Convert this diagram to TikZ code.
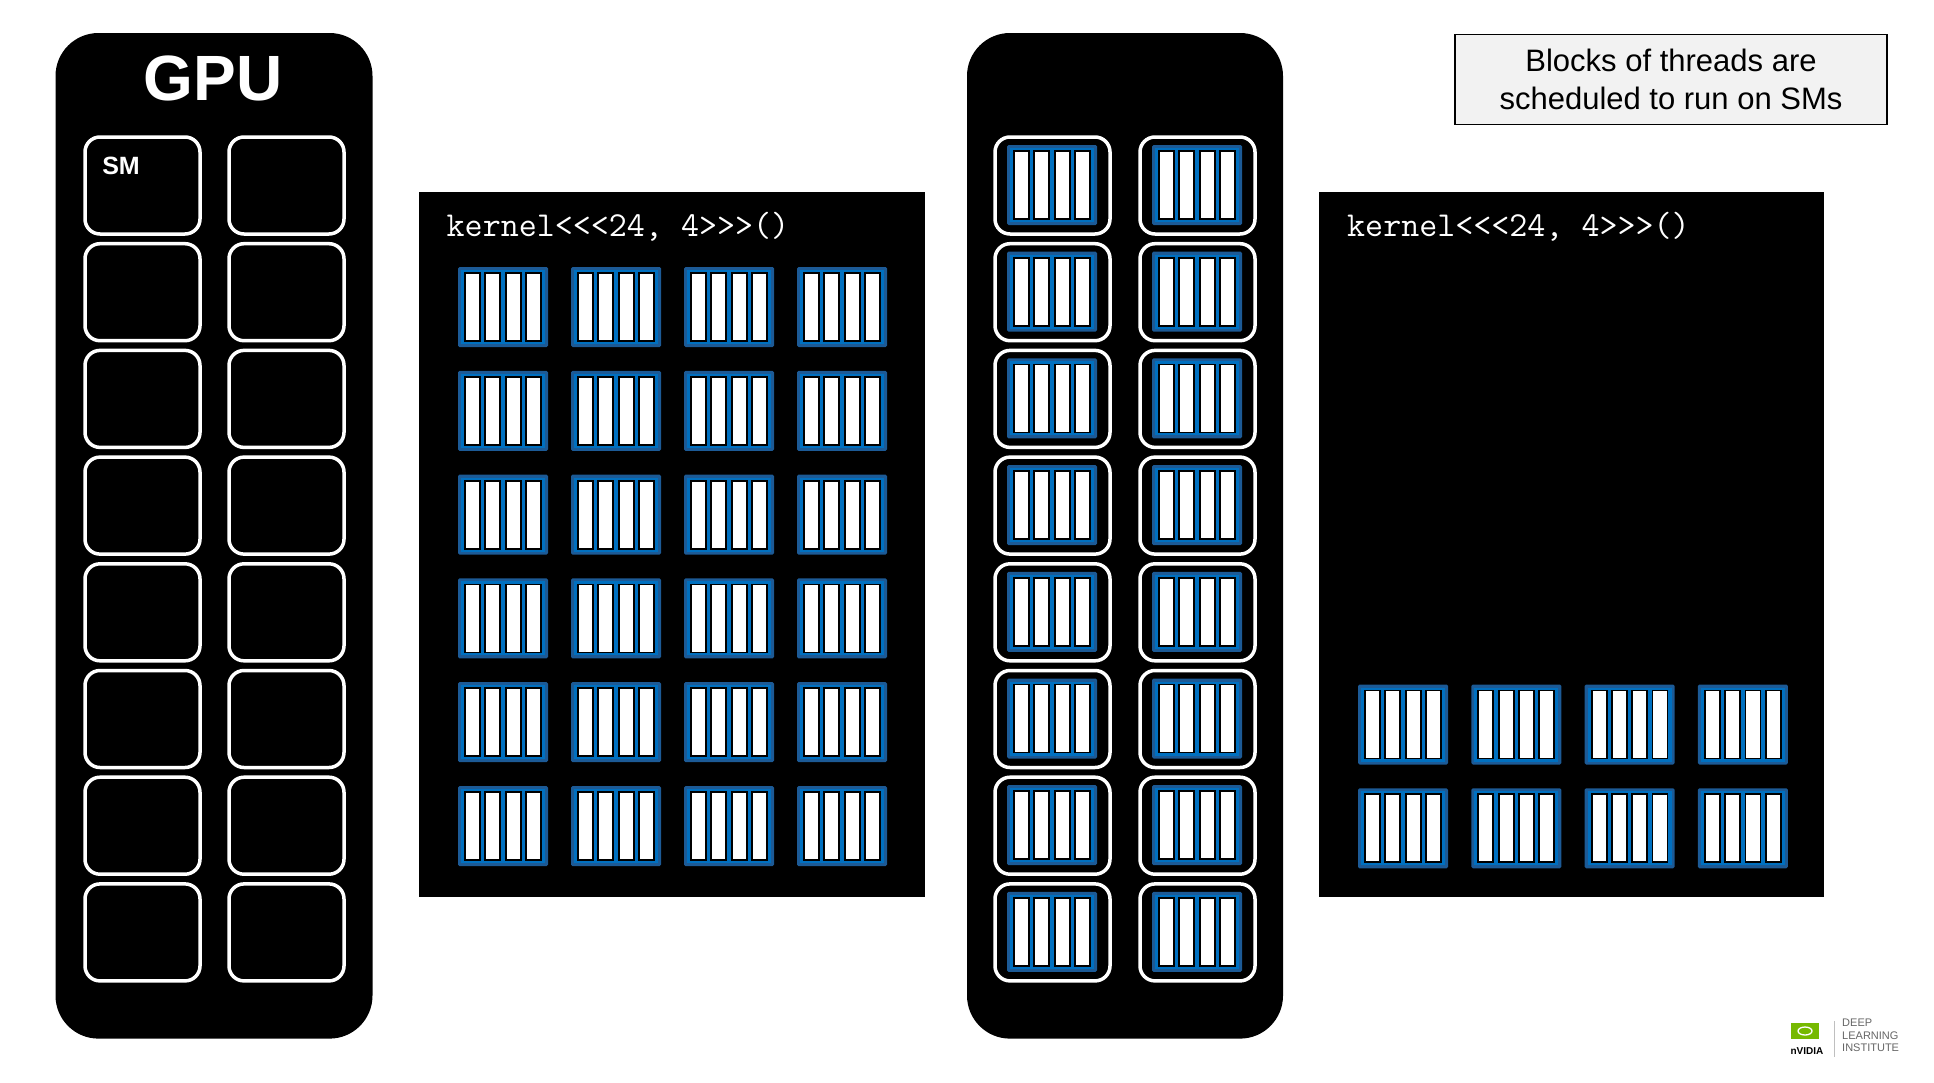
\documentclass[tikz,border=0pt]{standalone}
\usepackage{fontspec}
\setmainfont{Liberation Sans}
\definecolor{bblue}{HTML}{0070C0}
\definecolor{bdark}{HTML}{1C5A96}
\definecolor{nvgreen}{HTML}{76B900}
\newcommand\blk[2]{%
  \fill[bdark,rounded corners=1.5] (#1,#2) rectangle ++(90,80);
  \fill[bblue] ($(#1,#2)+(3,3)$) rectangle ++(84,74);
  \foreach \i in {0,...,3}{\draw[bar] ($(#1,#2)+(7+\i*20.3,6)$) rectangle ++(15,68);}}
\usetikzlibrary{calc}
\begin{document}
\begin{tikzpicture}[x=1pt,y=-1pt,
  panel/.style={fill=black,rounded corners=43},
  sm/.style={draw=white,line width=3.5,rounded corners=15},
  bar/.style={fill=white,draw=black,line width=1.8},
  ktext/.style={text=white,font=\ttfamily\fontsize{35}{35}\selectfont,anchor=west,inner sep=0}]
\useasboundingbox[fill=white] (0,0) rectangle (1934,1082);
% GPU panel
\fill[panel] (55.5,33) rectangle (372.5,1038.6);
\node[text=white,font=\bfseries\fontsize{64}{64}\selectfont] (gpu) at (213,78) {GPU};
\foreach \r in {0,...,7}{
  \draw[sm] (85,137+\r*106.7) rectangle ++(115,97);
  \draw[sm] (229,137+\r*106.7) rectangle ++(115,97);}
\node[text=white,font=\bfseries\fontsize{25}{25}\selectfont] (smlbl) at (121,166) {SM};
% kernel panel 1
\fill[black] (419,192) rectangle (925,897);
\node[ktext] (k1) at (446.5,227) {kernel<<<24, 4>>>()};
\foreach \c in {0,...,3}{\foreach \r in {0,...,5}{\blk{458+\c*113}{267+\r*103.8}}}
% middle panel
\fill[panel] (967,33) rectangle (1283,1038.6);
\foreach \r in {0,...,7}{
  \draw[sm] (995,137+\r*106.7) rectangle ++(115,97);
  \draw[sm] (1140,137+\r*106.7) rectangle ++(115,97);
  \blk{1007}{145+\r*106.7}
  \blk{1152}{145+\r*106.7}}
% kernel panel 2
\fill[black] (1318.5,192) rectangle (1824,897);
\node[ktext] (k2) at (1347,227) {kernel<<<24, 4>>>()};
\foreach \c in {0,...,3}{\foreach \r in {0,1}{\blk{1358+\c*113.3}{684.5+\r*103.8}}}
% label
\node[draw=black,line width=1.5,fill=gray!10,minimum width=432,minimum height=90,align=center,
  font=\fontsize{31}{38}\selectfont] (lbl) at (1671,79.5) {Blocks of threads are\\scheduled to run on SMs};
% logo
\fill[nvgreen] (1791,1023) rectangle (1819,1039);
\draw[white,line width=1.3] (1805,1031) ellipse (7 and 4);
\node[font=\bfseries\fontsize{10}{10}\selectfont,inner sep=0] (nv) at (1807,1051) {nVIDIA};
\draw[gray!50] (1834,1021) -- (1834,1057);
\node[anchor=north west,align=left,text=gray!80!black,inner sep=0,
  font=\fontsize{11}{12.5}\selectfont] (dli) at (1842,1019) {DEEP\\LEARNING\\INSTITUTE};
\end{tikzpicture}
\end{document}
